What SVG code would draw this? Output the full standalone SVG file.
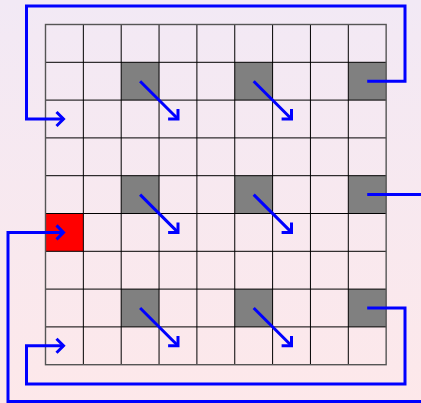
<svg xmlns="http://www.w3.org/2000/svg" width="421" height="403" viewBox="0 0 421 403">
<defs>
<linearGradient id="bg" x1="0" y1="0" x2="0" y2="1">
<stop offset="0" stop-color="#f2e9f5"/>
<stop offset="1" stop-color="#fde8ea"/>
</linearGradient>
<marker id="ah" markerUnits="userSpaceOnUse" markerWidth="20" markerHeight="20" viewBox="-10 -10 20 20" refX="0" refY="0" orient="auto">
<path d="M-7,-7 L0,0 L-7,7" fill="none" stroke="#0000ff" stroke-width="3"/>
</marker>
<style>
.gray{fill:#808080}
.red{fill:#ff0000}
.grid line{stroke:#000;stroke-width:1}
.conn path{fill:none;stroke:#0000ff;stroke-width:3}
.arr{marker-end:url(#ah)}
</style>
</defs>
<rect x="0" y="0" width="421" height="403" fill="url(#bg)"/>
<g id="cells">
<rect id="g-2-1" class="gray" x="121.2" y="62.3" width="37.85" height="37.8"/>
<rect id="g-5-1" class="gray" x="234.75" y="62.3" width="37.85" height="37.8"/>
<rect id="g-8-1" class="gray" x="348.3" y="62.3" width="37.85" height="37.8"/>
<rect id="g-2-4" class="gray" x="121.2" y="175.7" width="37.85" height="37.8"/>
<rect id="g-5-4" class="gray" x="234.75" y="175.7" width="37.85" height="37.8"/>
<rect id="g-8-4" class="gray" x="348.3" y="175.7" width="37.85" height="37.8"/>
<rect id="g-2-7" class="gray" x="121.2" y="289.1" width="37.85" height="37.8"/>
<rect id="g-5-7" class="gray" x="234.75" y="289.1" width="37.85" height="37.8"/>
<rect id="g-8-7" class="gray" x="348.3" y="289.1" width="37.85" height="37.8"/>
<rect id="r-0-5" class="red" x="45.5" y="213.5" width="37.85" height="37.8"/>
</g>
<g id="grid" class="grid">
<line x1="83.35" y1="24.5" x2="83.35" y2="364.7"/>
<line x1="121.2" y1="24.5" x2="121.2" y2="364.7"/>
<line x1="159.05" y1="24.5" x2="159.05" y2="364.7"/>
<line x1="196.9" y1="24.5" x2="196.9" y2="364.7"/>
<line x1="234.75" y1="24.5" x2="234.75" y2="364.7"/>
<line x1="272.6" y1="24.5" x2="272.6" y2="364.7"/>
<line x1="310.45" y1="24.5" x2="310.45" y2="364.7"/>
<line x1="348.3" y1="24.5" x2="348.3" y2="364.7"/>
<line x1="45.5" y1="62.3" x2="386.15" y2="62.3"/>
<line x1="45.5" y1="100.1" x2="386.15" y2="100.1"/>
<line x1="45.5" y1="137.9" x2="386.15" y2="137.9"/>
<line x1="45.5" y1="175.7" x2="386.15" y2="175.7"/>
<line x1="45.5" y1="213.5" x2="386.15" y2="213.5"/>
<line x1="45.5" y1="251.3" x2="386.15" y2="251.3"/>
<line x1="45.5" y1="289.1" x2="386.15" y2="289.1"/>
<line x1="45.5" y1="326.9" x2="386.15" y2="326.9"/>
<rect x="45.5" y="24.5" width="340.65" height="340.2" fill="none" stroke="#555" stroke-width="1.4"/>
</g>
<g id="connectors" class="conn">
<path class="arr" d="M140.1,81.2 L178,119"/>
<path class="arr" d="M253.7,81.2 L291.5,119"/>
<path class="arr" d="M140.1,194.6 L178,232.4"/>
<path class="arr" d="M253.7,194.6 L291.5,232.4"/>
<path class="arr" d="M140.1,308 L178,345.8"/>
<path class="arr" d="M253.7,308 L291.5,345.8"/>
<path class="arr" d="M367.2,81.2 H405 V6 H26.5 V119 H63.5"/>
<path d="M367.2,194.6 H421"/>
<path class="arr" d="M367.2,308 H405 V384 H26.5 V345.8 H63.5"/>
<path class="arr" d="M421,401.5 H8 V232.4 H63.5"/>
</g>
</svg>
